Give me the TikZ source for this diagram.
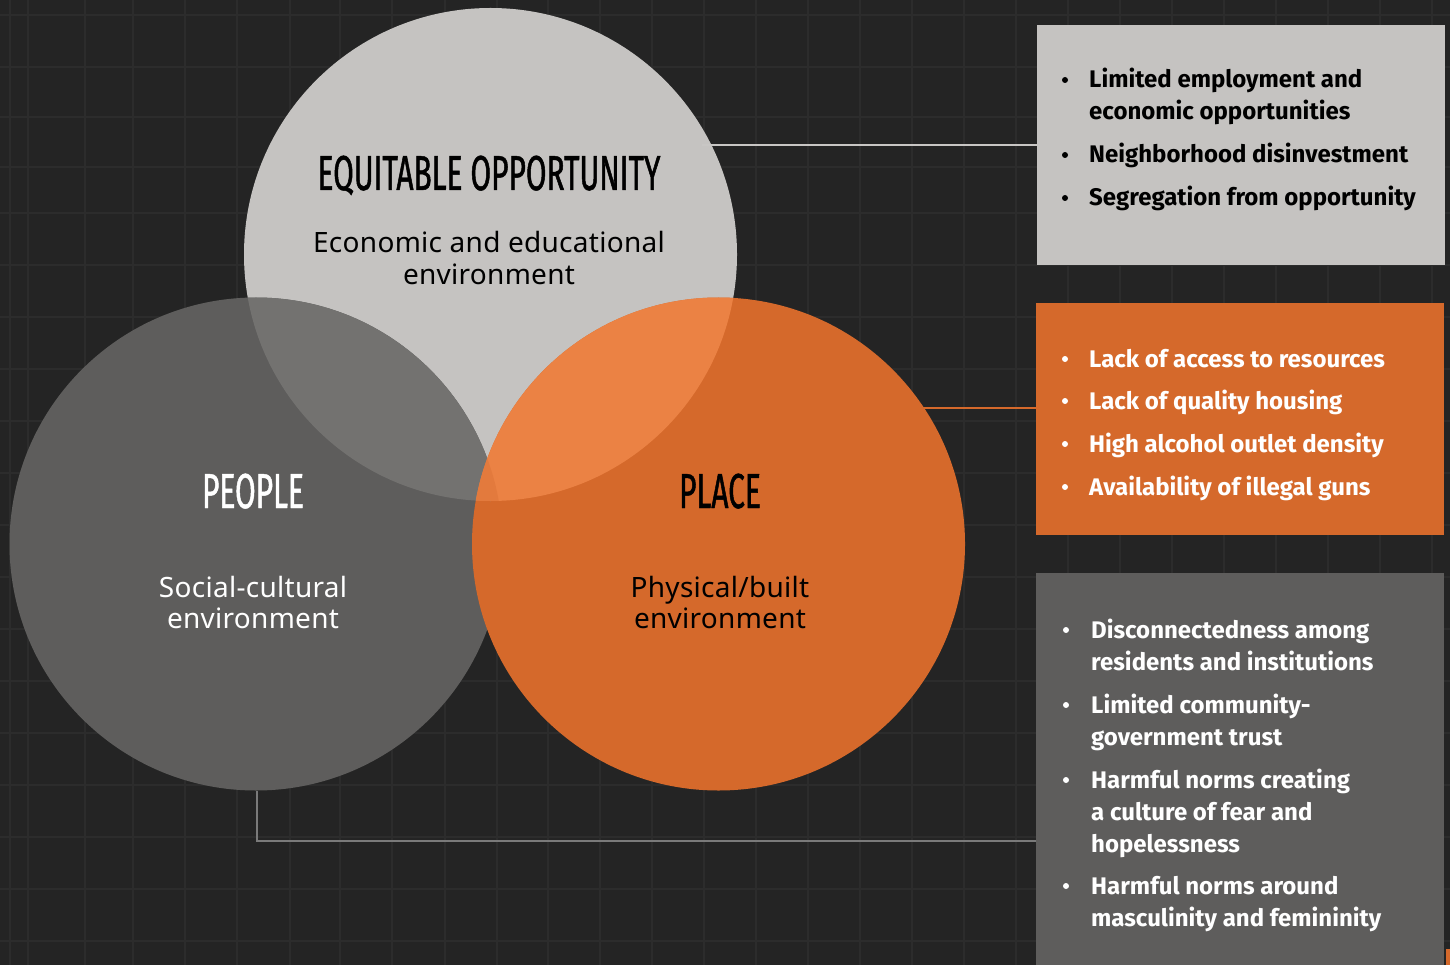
\documentclass[tikz,border=0pt]{standalone}
\usepackage{fontspec}
\setmainfont{Fira Sans}
\newfontfamily\condfont[FakeStretch=0.61,FakeBold=1]{Fira Sans}
\newfontfamily\subfont[LetterSpace=1]{Noto Sans}
\definecolor{bgc}{HTML}{242424}
\definecolor{gridc}{HTML}{2C2C2C}
\definecolor{lightc}{HTML}{C5C3C1}
\definecolor{darkc}{HTML}{5E5D5C}
\definecolor{orangec}{HTML}{D5692B}
\definecolor{tlc}{HTML}{737270}
\definecolor{trc}{HTML}{EB8244}
\definecolor{triplec}{HTML}{E37A3D}
\definecolor{boxgray}{HTML}{5E5D5C}
\definecolor{linegray}{HTML}{7A7A7A}
\definecolor{lightline}{HTML}{C8C6C4}
\tikzset{
  circ/.style={circle, inner sep=0pt, minimum size=493pt},
  title/.style={font=\condfont\fontsize{49}{52}\selectfont, inner sep=0pt, anchor=base},
  sub/.style={font=\subfont\fontsize{28}{32}\selectfont, inner sep=0pt, anchor=base},
  itemtxt/.style={font=\bfseries\fontsize{24}{32}\selectfont, inner sep=0pt, anchor=base west},
  bul/.style={circle, inner sep=0pt, minimum size=6pt},
  boxst/.style={inner sep=0pt, anchor=north west},
  conn/.style={line width=2pt}
}
\begin{document}
\begin{tikzpicture}[x=1pt,y=-1pt]
\useasboundingbox (0,0) rectangle (1450,965);
\fill[bgc] (0,0) rectangle (1450,965);
% faint grid texture
\foreach \gx in {10,28,85,133,185,237,290,340,392,445,497,548,600,652,704,756,808,860,912,964,1016,1068,1120,1172,1224,1276,1328,1380,1432}
  \draw[gridc, line width=1.2pt] (\gx,0) -- (\gx,965);
\foreach \gy in {15,67,117,167,213,265,317,369,421,473,525,577,629,681,733,785,837,889,941}
  \draw[gridc, line width=1.2pt] (0,\gy) -- (1450,\gy);

% circles
\node[circ, fill=lightc] (topc) at (490.5,254.5) {};
\node[circ, fill=darkc] (leftc) at (256,544) {};
\node[circ, fill=orangec] (rightc) at (718.5,544) {};
\begin{scope}
  \clip (490.5,254.5) circle (246.5);
  \fill[tlc] (256,544) circle (246.5);
  \fill[trc] (718.5,544) circle (246.5);
  \clip (256,544) circle (246.5);
  \fill[triplec] (718.5,544) circle (246.5);
\end{scope}

% circle texts
\node[title, text=black] (tt1) at (489,190) {EQUITABLE OPPORTUNITY};
\node[sub, text=black] (ts1) at (489,253) {Economic and educational};
\node[sub, text=black] (ts2) at (489,285) {environment};
\node[title, text=white] (tt2) at (253,508) {PEOPLE};
\node[sub, text=white] (ts3) at (253,597) {Social-cultural};
\node[sub, text=white] (ts4) at (253,628) {environment};
\node[title, text=black] (tt3) at (720,508) {PLACE};
\node[sub, text=black] (ts5) at (720,597) {Physical/built};
\node[sub, text=black] (ts6) at (720,628) {environment};

% boxes
\node[boxst, fill=lightc, minimum width=408pt, minimum height=240pt] (box1) at (1037,25) {};
\node[boxst, fill=orangec, minimum width=408pt, minimum height=232pt] (box2) at (1036,303) {};
\node[boxst, fill=boxgray, minimum width=408pt, minimum height=392pt] (box3) at (1036,573) {};
\node[boxst, fill=orangec, minimum width=4pt, minimum height=16pt] (mark) at (1446,949) {};

% connectors
\coordinate (c1) at (702,145);
\draw[conn, lightline] (c1) -- (c1 -| box1.west);
\coordinate (c2) at (923,408);
\draw[conn, orangec] (c2) -- (c2 -| box2.west);
\coordinate (c3) at (257,841);
\draw[conn, linegray] (257,790.5) -- (c3) -- (c3 -| box3.west);

% box 1 text
\foreach \y/\t [count=\i] in {88/Limited employment and,120/economic opportunities,163/Neighborhood disinvestment,206/Segregation from opportunity}
  \node[itemtxt, text=black] (a\i) at (1089,\y) {\t};
\foreach \y [count=\i] in {88,163,206}
  \node[bul, fill=black] (ab\i) at (1065,\y-8) {};

% box 2 text
\foreach \y/\t [count=\i] in {367/Lack of access to resources,409/Lack of quality housing,452/High alcohol outlet density,495/Availability of illegal guns}
  \node[itemtxt, text=white] (b\i) at (1089,\y) {\t};
\foreach \y [count=\i] in {367,409,452,495}
  \node[bul, fill=white] (bb\i) at (1065,\y-8) {};

% box 3 text
\foreach \y/\t [count=\i] in {638/Disconnectedness among,670/residents and institutions,713/Limited community-,745/government trust,788/Harmful norms creating,820/a culture of fear and,852/hopelessness,894/Harmful norms around,926/masculinity and femininity}
  \node[itemtxt, text=white] (c\i) at (1091,\y) {\t};
\foreach \y [count=\i] in {638,713,788,894}
  \node[bul, fill=white] (cb\i) at (1066,\y-8) {};
\end{tikzpicture}
\end{document}
